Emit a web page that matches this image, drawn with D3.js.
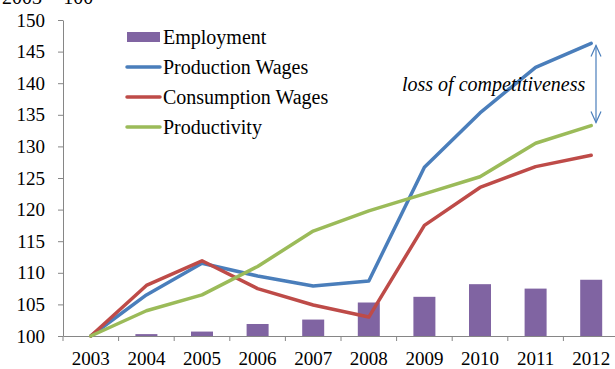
<!DOCTYPE html>
<html><head><meta charset="utf-8">
<script src="https://cdn.jsdelivr.net/npm/d3@7"></script>
<style>body{margin:0;background:#fff}svg{display:block}svg text{font-family:"Liberation Serif","Times New Roman",Times,serif}</style>
</head><body>
<svg id="c" width="615" height="369"></svg>
<script>
const years = ["2003","2004","2005","2006","2007","2008","2009","2010","2011","2012"];
const employment = [100, 100.3, 100.7, 101.9, 102.6, 105.3, 106.2, 108.2, 107.5, 108.9];
const productionWages = [100, 106.5, 111.5, 109.5, 107.9, 108.7, 126.7, 135.3, 142.5, 146.3];
const consumptionWages = [100, 108.0, 111.9, 107.5, 104.9, 103.0, 117.5, 123.5, 126.8, 128.6];
const productivity = [100, 104.0, 106.5, 111.0, 116.6, 119.8, 122.5, 125.2, 130.5, 133.3];
const yTicks = [100,105,110,115,120,125,130,135,140,145,150];
const legendLabels = ["Employment","Production Wages","Consumption Wages","Productivity"];
const annotation = "loss of competitiveness";
const title = "2003 = 100";

const colors = {emp:"#8064A2", prod:"#4A7EBB", cons:"#BE4B48", pty:"#9BBB59"};
const svg = d3.select("#c");
const L=63, R=619, T=20, B=336;
const x = d3.scaleBand().domain(years).range([L,R]);
const y = d3.scaleLinear().domain([100,150]).range([B,T]);
const cx = d => x(d)+x.bandwidth()/2;

svg.append("text").attr("x",2).attr("y",4).style("font-size","20px").text(title);

// bars
svg.append("g").selectAll("rect").data(years).join("rect")
  .attr("x",(d)=>cx(d)-11).attr("width",22)
  .attr("y",(d,i)=>y(employment[i])).attr("height",(d,i)=>B-y(employment[i]))
  .attr("fill",colors.emp);

// axes
const yAx = svg.append("g").attr("transform",`translate(${L},0)`)
  .call(d3.axisLeft(y).tickValues(yTicks).tickSize(5).tickPadding(13).tickSizeOuter(0));
yAx.attr("font-family",null);
yAx.select(".domain").attr("stroke","#868686");
yAx.selectAll(".tick line").attr("stroke","#868686");
yAx.selectAll("text").style("font-size","19px").attr("fill","#000");

const xAx = svg.append("g").attr("transform",`translate(0,${B})`)
  .call(d3.axisBottom(x).tickSize(0).tickPadding(16));
xAx.attr("font-family",null);
xAx.select(".domain").attr("stroke","#868686");
xAx.selectAll("text").style("font-size","19px").attr("fill","#000");
// category separator ticks
svg.append("g").selectAll("line").data(years).join("line")
  .attr("x1",d=>x(d)).attr("x2",d=>x(d)).attr("y1",B).attr("y2",B+5)
  .attr("stroke","#868686");

const line = d3.line().x((d,i)=>cx(years[i])).y(d=>y(d));
[[productionWages,colors.prod],[consumptionWages,colors.cons],[productivity,colors.pty]].forEach(([s,c])=>{
  svg.append("path").datum(s).attr("d",line).attr("fill","none").attr("stroke",c)
    .attr("stroke-width",3.5).attr("stroke-linejoin","round").attr("stroke-linecap","round");
});

// legend
const lg = svg.append("g");
const lgY = [37,67,97,127];
legendLabels.forEach((t,i)=>{
  if(i===0){
    lg.append("rect").attr("x",127).attr("y",lgY[i]-5).attr("width",33).attr("height",10).attr("fill",colors.emp);
  } else {
    const c=[null,colors.prod,colors.cons,colors.pty][i];
    lg.append("line").attr("x1",127).attr("x2",160).attr("y1",lgY[i]).attr("y2",lgY[i])
      .attr("stroke",c).attr("stroke-width",3.5).attr("stroke-linecap","round");
  }
  lg.append("text").attr("x",163).attr("y",lgY[i]+6.5).style("font-size","20px").text(t);
});

// annotation
svg.append("text").attr("x",402).attr("y",91).style("font-size","20px")
  .style("font-style","italic").text(annotation);
const ax = 596, ay1 = y(productionWages[9])+2, ay2 = y(productivity[9])-3;
const ag = svg.append("g").attr("stroke","#4A7EBB").attr("stroke-width",1.2).attr("fill","none");
ag.append("line").attr("x1",ax).attr("x2",ax).attr("y1",ay1).attr("y2",ay2);
ag.append("path").attr("d",`M${ax-5},${ay1+11}L${ax},${ay1}L${ax+5},${ay1+11}`);
ag.append("path").attr("d",`M${ax-5},${ay2-11}L${ax},${ay2}L${ax+5},${ay2-11}`);
</script>
</body></html>
